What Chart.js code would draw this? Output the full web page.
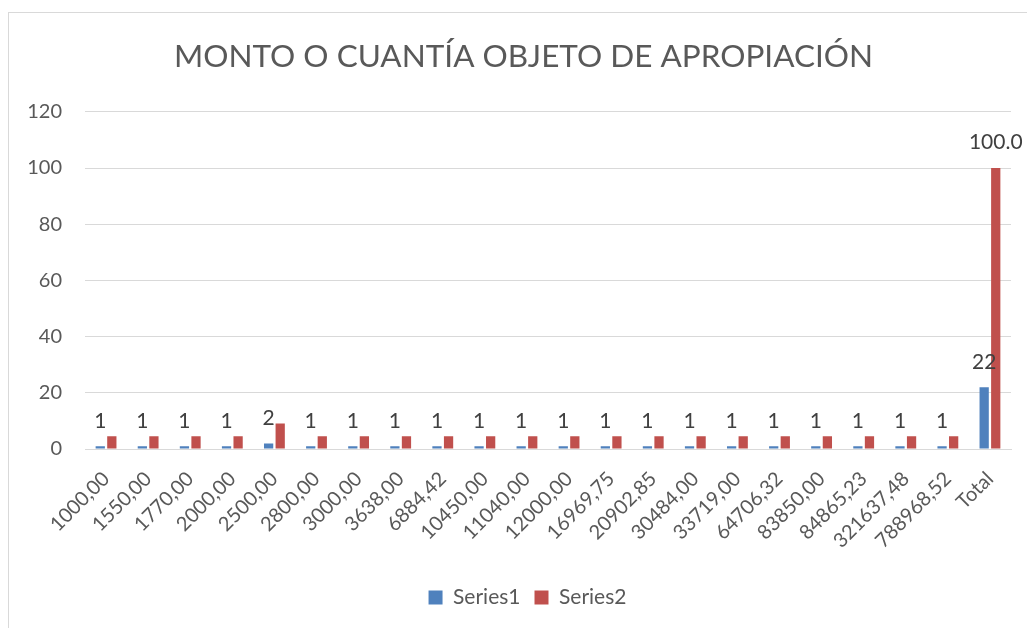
<!DOCTYPE html>
<html>
<head>
<meta charset="utf-8">
<script src="https://cdn.jsdelivr.net/npm/chart.js@4"></script>
<style>
  body { margin: 0; background: #fff; }
  #frame { position: absolute; left: 8px; top: 12px; width: 1040px; height: 640px; border: 1px solid #d9d9d9; }
  #wrap { position: absolute; left: 0; top: 0; width: 1027px; height: 628px; }
</style>
</head>
<body>
<div id="frame"></div>
<div id="wrap"><canvas id="myChart" width="1027" height="628"></canvas></div>
<script>
var categories = ["1000,00", "1550,00", "1770,00", "2000,00", "2500,00", "2800,00", "3000,00", "3638,00", "6884,42", "10450,00", "11040,00", "12000,00", "16969,75", "20902,85", "30484,00", "33719,00", "64706,32", "83850,00", "84865,23", "321637,48", "788968,52", "Total"];
var series1 = [1, 1, 1, 1, 2, 1, 1, 1, 1, 1, 1, 1, 1, 1, 1, 1, 1, 1, 1, 1, 1, 22];
var series2 = [4.5, 4.5, 4.5, 4.5, 9.1, 4.5, 4.5, 4.5, 4.5, 4.5, 4.5, 4.5, 4.5, 4.5, 4.5, 4.5, 4.5, 4.5, 4.5, 4.5, 4.5, 100.0];
var yTicks = [0, 20, 40, 60, 80, 100, 120];

var font = "Lato, 'Open Sans', sans-serif";

// labels above the bars (series1 all, series2 only the total)
var barLabels = {
    id: 'barLabels',
    afterDatasetsDraw: function (chart) {
        var ctx = chart.ctx;
        ctx.save();
        ctx.font = "21px " + font;
        ctx.fillStyle = "#404040";
        ctx.textAlign = "center";
        ctx.textBaseline = "alphabetic";
        chart.getDatasetMeta(0).data.forEach(function (bar, i) {
            ctx.fillText(String(series1[i]), bar.x, bar.y - 18);
        });
        var meta2 = chart.getDatasetMeta(1).data;
        var last = meta2.length - 1;
        ctx.fillText(series2[last].toFixed(1), meta2[last].x, meta2[last].y - 19);
        ctx.restore();
    }
};

// title and legend sit a bit right of the plot centre in the original
var shiftBoxes = {
    id: 'shiftBoxes',
    afterLayout: function (chart) {
        chart.titleBlock.left += 18;
        chart.titleBlock.right += 18;
        chart.legend.left += 22;
        chart.legend.right += 22;
    }
};

var ctx = document.getElementById('myChart').getContext('2d');
var myChart = new Chart(ctx, {
    type: 'bar',
    data: {
        labels: categories,
        datasets: [{
            label: "Series1",
            data: series1,
            backgroundColor: "#4f81bd",
            categoryPercentage: 0.55,
            barPercentage: 0.8
        }, {
            label: "Series2",
            data: series2,
            backgroundColor: "#c0504d",
            categoryPercentage: 0.55,
            barPercentage: 0.8
        }]
    },
    plugins: [barLabels, shiftBoxes],
    options: {
        responsive: false,
        animation: false,
        layout: { padding: { left: 0, right: 16, top: 22, bottom: 10 } },
        plugins: {
            title: {
                display: true,
                text: "MONTO O CUANTÍA OBJETO DE APROPIACIÓN",
                color: "#595959",
                font: { family: font, size: 31.5, weight: 'normal' },
                padding: { top: 16, bottom: 36 }
            },
            legend: {
                position: 'bottom',
                labels: {
                    color: "#595959",
                    font: { family: font, size: 21 },
                    boxWidth: 14,
                    boxHeight: 14,
                    padding: 14
                }
            },
            tooltip: { enabled: false }
        },
        scales: {
            x: {
                grid: { display: false },
                border: { color: "#d9d9d9" },
                ticks: {
                    color: "#595959",
                    font: { family: font, size: 20 },
                    minRotation: 45,
                    maxRotation: 45,
                    autoSkip: false,
                    padding: 10
                },
                afterFit: function (scale) { scale.height = 124; }
            },
            y: {
                min: 0,
                max: 120,
                border: { display: false },
                grid: { color: "#d9d9d9", drawTicks: false },
                afterBuildTicks: function (scale) {
                    scale.ticks = yTicks.map(function (v) { return { value: v }; });
                },
                ticks: {
                    color: "#595959",
                    font: { family: font, size: 20 },
                    padding: 23
                },
                afterFit: function (scale) { scale.width = 85; }
            }
        }
    }
});
</script>
</body>
</html>
